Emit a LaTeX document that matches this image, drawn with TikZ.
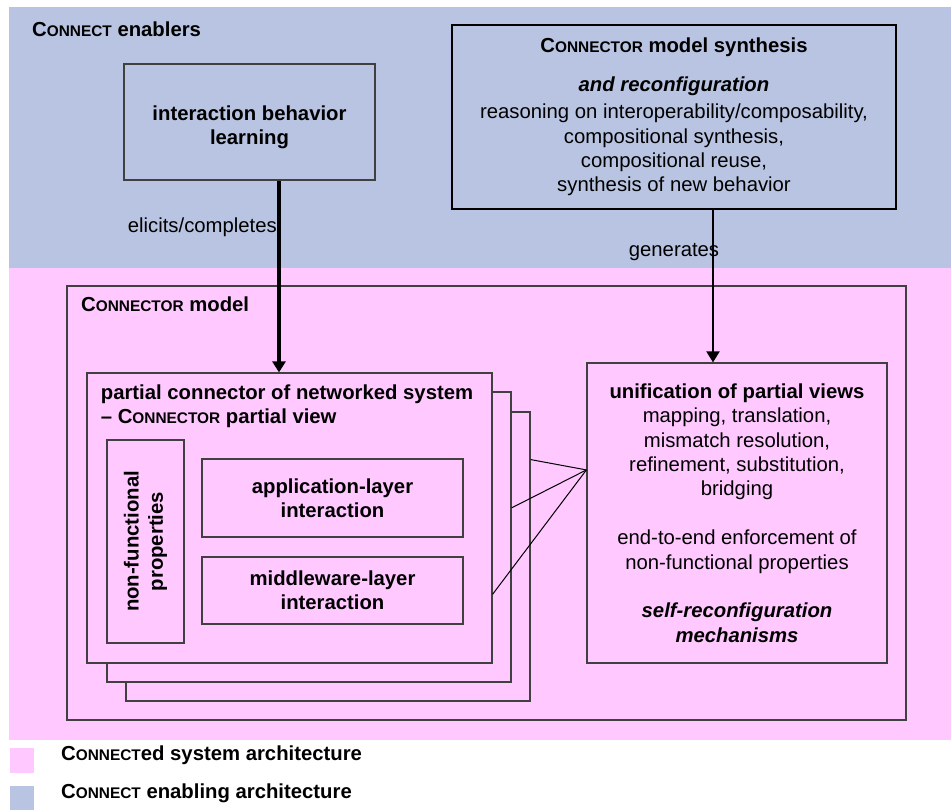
\documentclass[tikz,border=0pt]{standalone}
\usepackage{fontspec}
\setmainfont{Liberation Sans}
\usetikzlibrary{positioning, arrows.meta, calc}
\definecolor{enablerblue}{RGB}{184,196,225}
\definecolor{systempink}{RGB}{255,200,255}
\newcommand{\smc}[1]{{\fontsize{15.4}{15.4}\selectfont #1}}

\begin{document}
\begin{tikzpicture}[x=1pt, y=-1pt,
  every node/.style={font=\fontsize{20.3}{24.4}\selectfont},
  box/.style={draw=black!75, line width=1.2pt, rectangle, inner sep=0pt},
  lbl/.style={inner sep=0pt, font=\fontsize{20.3}{24.4}\selectfont\bfseries},
  flow/.style={-{Triangle[length=11pt,width=13pt]}}]
\useasboundingbox (0,0) rectangle (951,810);
% the two architectures
\fill[enablerblue] (9,7) rectangle (951,268);
\fill[systempink] (9,268) rectangle (951,740);

\node[lbl, anchor=base west] (enablers) at (32,37) {C\smc{ONNECT} enablers};
\node[box, minimum width=251pt, minimum height=116pt] (learn) at (249.5,122) {};
\node[lbl, align=center] (learntext) at ([yshift=-5pt]learn.center) {interaction behavior\\learning};
\node[box, draw=black, minimum width=444pt, minimum height=184pt, align=center] (synth) at (674,117)
  {\textbf{C\smc{ONNECTOR} model synthesis}\\[14.6pt]
   \textbf{\textit{and reconfiguration}}\\[2.6pt]
   reasoning on interoperability/composability,\\
   compositional synthesis,\\
   compositional reuse,\\
   synthesis of new behavior};

% connector model
\node[box, minimum width=839pt, minimum height=434pt] (model) at (486.5,503) {};
\node[lbl, anchor=base west] (modeltitle) at (81,312) {C\smc{ONNECTOR} model};

% stacked partial views
\node[box, fill=systempink, minimum width=404pt, minimum height=289pt] (pv3) at (328,556.5) {};
\node[box, fill=systempink, minimum width=404pt, minimum height=290pt] (pv2) at (309,537) {};
\node[box, fill=systempink, minimum width=405pt, minimum height=290pt] (pv1) at (289.5,518) {};
\node[lbl, anchor=north west, align=left] (pvtitle) at (100.7,384.2)
  {partial connector of networked system\\-- C\smc{ONNECTOR} partial view};
\node[box, rotate=90, minimum width=203pt, minimum height=77pt, align=center,
  font=\fontsize{20.3}{24.4}\selectfont\bfseries] (nfp) at (145.5,541.5) {non-functional\\properties};
\node[box, minimum width=261pt, minimum height=78pt, align=center,
  font=\fontsize{20.3}{24.4}\selectfont\bfseries] (app) at (332.5,498) {application-layer\\interaction};
\node[box, minimum width=261pt, minimum height=67pt, align=center,
  font=\fontsize{20.3}{24.4}\selectfont\bfseries] (mw) at (332.5,590.5) {middleware-layer\\interaction};

\node[box, minimum width=300pt, minimum height=300pt, align=center] (unif) at (737,513)
  {\textbf{unification of partial views}\\
   mapping, translation,\\
   mismatch resolution,\\
   refinement, substitution,\\
   bridging\\[24.4pt]
   end-to-end enforcement of\\
   non-functional properties\\[24.4pt]
   \textbf{\textit{self-reconfiguration}}\\
   \textbf{\textit{mechanisms}}};

% links
\coordinate (hub) at ($(unif.north west)!0.357!(unif.south west)$);
\draw[line width=1pt] (hub) -- ($(pv1.north east)!0.762!(pv1.south east)$);
\draw[line width=1pt] (hub) -- ($(pv2.north east)!0.4!(pv2.south east)$);
\draw[line width=1pt] (hub) -- ($(pv3.north east)!0.166!(pv3.south east)$);

\coordinate (elx) at (279,0);
\draw[flow, line width=4pt] (learn.south -| elx) -- (pv1.north -| elx);
\node[anchor=base east, inner sep=0pt] (elicits) at (277,233) {elicits/completes};
\coordinate (genx) at (713,0);
\draw[flow, line width=2pt] (synth.south -| genx) -- (unif.north -| genx);
\node[anchor=base, inner sep=0pt] (generates) at (674,257) {generates};

% legend
\fill[systempink] (10,748) rectangle (34,773);
\node[lbl, anchor=base west] (legsys) at (61,760) {C\smc{ONNECT}ed system architecture};
\fill[enablerblue] (10,786) rectangle (34,810);
\node[lbl, anchor=base west] (legen) at (61,798) {C\smc{ONNECT} enabling architecture};
\end{tikzpicture}
\end{document}
